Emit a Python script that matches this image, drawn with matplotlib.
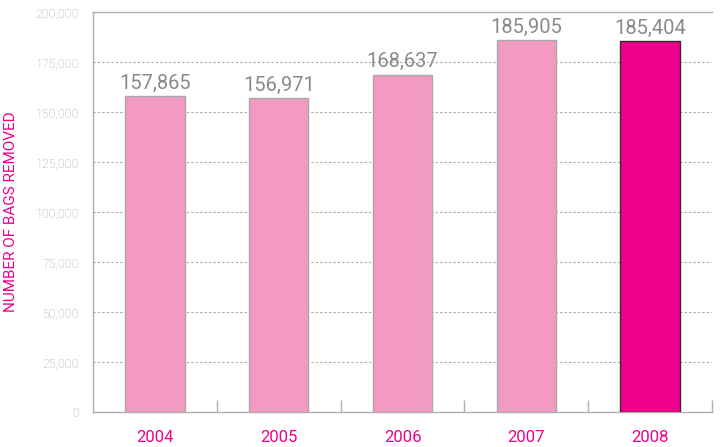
import numpy as np
import matplotlib.pyplot as plt
from matplotlib.ticker import FuncFormatter, FixedLocator

plt.rcParams['font.family'] = ['Roboto', 'DejaVu Sans']

years = ["2004", "2005", "2006", "2007", "2008"]
bags = [157865, 156971, 168637, 185905, 185404]
yticks = [0, 25000, 50000, 75000, 100000, 125000, 150000, 175000, 200000]

light = "#F39AC2"
dark = "#EC008C"

fig = plt.figure(figsize=(7.22, 4.47), dpi=100)
ax = fig.add_axes([0.129, 0.078, 0.857, 0.895])

x = np.arange(len(years))
colors = [light] * 4 + [dark]
edges = ["#a8a8a8"] * 4 + ["#3a2a30"]
ax.bar(x, bags, width=0.48, color=colors, edgecolor=edges, linewidth=1, zorder=3)

# value labels above bars
for xi, v in zip(x, bags):
    ax.text(xi, v + 1800, f"{v:,}", ha="center", va="bottom", fontsize=14.5,
            color="#8a8a8a", zorder=4)

ax.set_xlim(-0.5, len(years) - 0.5)
ax.set_ylim(0, 200000)
ax.set_yticks(yticks)
ax.yaxis.set_major_formatter(FuncFormatter(lambda v, p: f"{int(v):,}"))
ax.tick_params(axis="y", length=0, labelsize=9, labelcolor="#a5a5a5", pad=10)
for lab in ax.get_yticklabels():
    lab.set_fontweight("light")
ax.set_xticks(x)
ax.set_xticklabels(years, fontsize=12, color=dark)
ax.tick_params(axis="x", which="major", length=0, pad=13)
ax.xaxis.set_minor_locator(FixedLocator(np.arange(0.5, len(years), 1)))
ax.tick_params(axis="x", which="minor", direction="in", length=9, color="#b0b0b0", width=1)

ax.grid(axis="y", linestyle=(0, (2, 2)), color="#a8a8a8", linewidth=0.8, zorder=0)
for s in ["left", "bottom", "top"]:
    ax.spines[s].set_color("#b0b0b0")
    ax.spines[s].set_linewidth(1)
ax.spines["right"].set_visible(False)

ax.set_ylabel("NUMBER OF BAGS REMOVED", color=dark, fontsize=11)
ax.yaxis.set_label_coords(-0.121, 0.5)

plt.savefig("out.png", dpi=100)
